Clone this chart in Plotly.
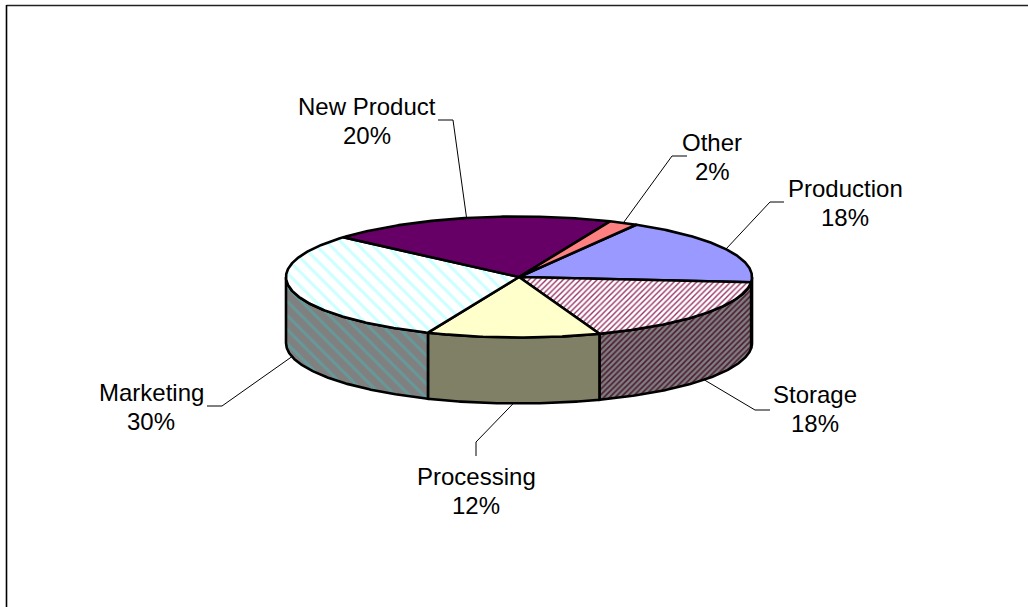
import math
import plotly.graph_objects as go

# ---- data ----
categories = ["Production", "Storage", "Processing", "Marketing", "New Product", "Other"]
values = [18, 18, 12, 30, 20, 2]

# ---- styles ----
top_colors = ["#9999FF", "#FFFFFF", "#FFFFCC", "#FFFFFF", "#660066", "#FF8080"]
side_colors = ["#4D4D80", "#808080", "#808066", "#808080", "#330033", "#804040"]
top_pattern = [None, dict(shape="/", size=4, solidity=0.35, fgcolor="#993366", bgcolor="#FFFFFF"),
               None, dict(shape="\\", size=10, solidity=0.3, fgcolor="#CCFFFF", bgcolor="#FFFFFF"),
               None, None]
side_pattern = [None, dict(shape="/", size=4, solidity=0.4, fgcolor="#4D1A33", bgcolor="#808080"),
                None, dict(shape="\\", size=10, solidity=0.3, fgcolor="#669999", bgcolor="#808080"),
                None, None]

# ---- geometry of the projected pie ----
CX, CY, RX, RY, DEPTH = 519.0, 277.0, 233.0, 60.5, 66.0
START_DEG = 59.8
W, H = 1028, 607
LINE_GAP = 14.5


def pt(deg, drop=0.0):
    a = math.radians(deg)
    return CX + RX * math.cos(a), CY - RY * math.sin(a) + drop


def arc(a0, a1, drop=0.0):
    n = max(2, int(abs(a1 - a0) * 2))
    return [pt(a0 + (a1 - a0) * i / n, drop) for i in range(n + 1)]


total = sum(values)
spans = []
ang = START_DEG
for v in values:
    next_ang = ang - v / total * 360
    spans.append((ang, next_ang))
    ang = next_ang

fig = go.Figure()


def add_poly(points, fill, pattern, width=2.6):
    tr = dict(x=[p[0] for p in points], y=[p[1] for p in points], mode="lines",
              fill="toself", fillcolor=fill, line=dict(color="black", width=width),
              hoverinfo="skip", showlegend=False)
    if pattern:
        tr["fillpattern"] = dict(fillmode="replace", **pattern)
    fig.add_trace(go.Scatter(**tr))


# front wall: only the part of each slice on the lower half of the ellipse
for i, (a0, a1) in enumerate(spans):
    lo, hi = max(a1, -180.0), min(a0, 0.0)
    if hi > lo:
        front = arc(hi, lo)
        back = arc(lo, hi, DEPTH)
        add_poly(front + back + front[:1], side_colors[i], side_pattern[i])

# top faces
for i, (a0, a1) in enumerate(spans):
    rim = arc(a0, a1)
    add_poly([(CX, CY)] + rim + [(CX, CY)], top_colors[i], top_pattern[i])

# leader lines: start on the rim at each slice's mid angle
elbows = {
    "Production": [(770, 202), (784, 202)],
    "Storage": [(755, 410), (770, 410)],
    "Processing": [(476, 442), (476, 456)],
    "Marketing": [(222, 406), (207, 406)],
    "New Product": [(453, 120), (438, 120)],
    "Other": [(672, 156), (687, 156)],
}
label_pos = {
    "Production": (845, 202.5),
    "Storage": (815, 408.5),
    "Processing": (476, 490.5),
    "Marketing": (151, 406.5),
    "New Product": (367, 121),
    "Other": (712, 156.5),
}
for i, name in enumerate(categories):
    mid = (spans[i][0] + spans[i][1]) / 2
    s = math.sin(math.radians(mid))
    start = pt(mid, DEPTH if s < 0 else 0)
    path = [start] + elbows[name]
    fig.add_trace(go.Scatter(x=[p[0] for p in path], y=[p[1] for p in path], mode="lines",
                             line=dict(color="black", width=1), hoverinfo="skip", showlegend=False))
    lx, ly = label_pos[name]
    for txt, off in ((name, -LINE_GAP), (f"{values[i]}%", LINE_GAP)):
        fig.add_annotation(x=lx, y=ly + off, xref="x", yref="y", text=txt, showarrow=False,
                           align="center", xanchor="center", yanchor="middle",
                           font=dict(family="Liberation Sans", size=24, color="black"))

# chart frame (clipped by the image on right and bottom)
fig.add_shape(type="line", x0=6.5, x1=W, y0=5.5, y1=5.5, xref="x", yref="y",
              line=dict(color="#222222", width=1.6))
fig.add_shape(type="line", x0=6.5, x1=6.5, y0=5, y1=H, xref="x", yref="y",
              line=dict(color="black", width=1.6))

fig.update_layout(width=W, height=H, margin=dict(l=0, r=0, t=0, b=0),
                  paper_bgcolor="white", plot_bgcolor="white", showlegend=False,
                  xaxis=dict(range=[0, W], visible=False, fixedrange=True),
                  yaxis=dict(range=[H, 0], visible=False, fixedrange=True))
fig.write_html("out.html", config={"displayModeBar": False},
               post_script="document.body.style.margin='0';document.documentElement.style.overflow='hidden';")
